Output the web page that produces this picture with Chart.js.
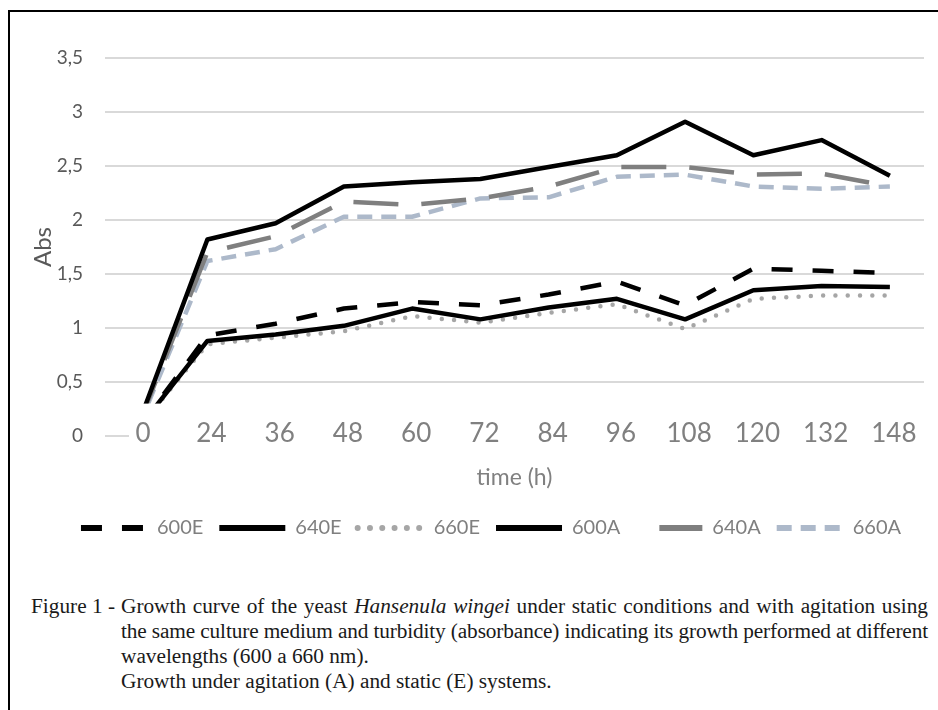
<!DOCTYPE html>
<html>
<head>
<meta charset="utf-8">
<script src="https://cdn.jsdelivr.net/npm/chart.js@4.4.0/dist/chart.umd.min.js"></script>
<style>
  html, body { margin: 0; padding: 0; background: #fff; }
  body { width: 938px; height: 710px; position: relative; overflow: hidden; }
  #frame { position: absolute; left: 8px; top: 10px; width: 1000px; height: 800px; border: 2px solid #000; box-sizing: border-box; }
  #chart { position: absolute; left: 0; top: 0; }
  #caption { position: absolute; left: 31px; top: 594px; width: 897px; font-family: "Liberation Serif", serif; font-size: 21.3px; line-height: 25px; color: #1a1a1a; }
  .l { display: block; white-space: nowrap; padding-left: 90px; position: relative; }
  .j { text-align: justify; text-align-last: justify; }
  .fig { position: absolute; left: 0; top: 0; }
</style>
</head>
<body>
<div id="frame"></div>
<canvas id="chart" width="938" height="560"></canvas>
<div id="caption">
  <div class="l j"><span class="fig">Figure 1 -</span><span class="t">Growth curve of the yeast <i>Hansenula wingei</i> under static conditions and with agitation using</span></div>
  <div class="l j"><span class="t">the same culture medium and turbidity (absorbance) indicating its growth performed at different</span></div>
  <div class="l">wavelengths (600 a 660 nm).</div>
  <div class="l">Growth under agitation (A) and static (E) systems.</div>
</div>
<script>
// time points (h)
const labels = ['0', '24', '36', '48', '60', '72', '84', '96', '108', '120', '132', '148'];

// absorbance, static (E)
const s600E = [0.08, 0.93, 1.04, 1.18, 1.24, 1.21, 1.31, 1.43, 1.21, 1.55, 1.53, 1.51];
const s640E = [0.08, 0.88, 0.94, 1.02, 1.18, 1.08, 1.19, 1.27, 1.08, 1.35, 1.39, 1.38];
const s660E = [0.08, 0.85, 0.91, 0.97, 1.11, 1.05, 1.14, 1.22, 0.99, 1.27, 1.30, 1.30];

// absorbance, agitation (A)
const s600A = [0.13, 1.82, 1.97, 2.31, 2.35, 2.38, 2.49, 2.60, 2.91, 2.60, 2.74, 2.41];
const s640A = [0.12, 1.70, 1.85, 2.17, 2.14, 2.20, 2.31, 2.49, 2.49, 2.42, 2.43, 2.31];
const s660A = [0.10, 1.62, 1.73, 2.03, 2.03, 2.20, 2.21, 2.40, 2.42, 2.31, 2.29, 2.31];

const yTicks = [0, 0.5, 1, 1.5, 2, 2.5, 3, 3.5];

// squeeze a justified caption line if its natural width is too wide
document.querySelectorAll('#caption .j .t').forEach(t => {
  t.style.display = 'inline-block';
  const over = t.getBoundingClientRect().width - 807;
  if (over > 0) {
    const n = t.textContent.length;
    t.parentNode.style.letterSpacing = (-over / n) + 'px';
  }
  t.style.display = '';
});

function line(label, data, color, dash, cap, legendDashOffset) {
  return {
    label, data,
    borderColor: color,
    backgroundColor: color,
    borderWidth: 4.5,
    borderDash: dash,
    borderCapStyle: cap || 'butt',
    borderJoinStyle: 'round',
    pointRadius: 0,
    pointStyle: 'line',
    tension: 0,
    fill: false,
    legendDashOffset: legendDashOffset || 0
  };
}

// white strip behind the category labels (covers the bottom of the plot)
const labelStrip = {
  id: 'labelStrip',
  afterDatasetsDraw(chart) {
    const {ctx, chartArea, scales} = chart;
    const top = scales.y.getPixelForValue(0.3);
    ctx.save();
    ctx.fillStyle = '#fff';
    ctx.fillRect(chartArea.left + 24, top, chartArea.right - chartArea.left, chartArea.bottom - top + 6);
    ctx.restore();
  }
};

const shiftLegend = {
  id: 'shiftLegend',
  afterLayout(chart) {
    chart.legend.left += 38;
  }
};

const ctx = document.getElementById('chart').getContext('2d');

new Chart(ctx, {
  type: 'line',
  data: {
    labels,
    datasets: [
      line('600E', s600E, '#000000', [21, 20]),
      line('640E', s640E, '#000000', []),
      line('660E', s660E, '#a6a6a6', [0, 12.3], 'round'),
      line('600A', s600A, '#000000', []),
      line('640A', s640A, '#7f7f7f', [45, 23], 'butt', 45),
      line('660A', s660A, '#adb9ca', [15, 9])
    ]
  },
  options: {
    responsive: false,
    animation: false,
    layout: { padding: { top: 58, left: 20, right: 14, bottom: 12 } },
    plugins: {
      tooltip: { enabled: false },
      legend: {
        position: 'bottom',
        labels: {
          usePointStyle: true,
          pointStyleWidth: 66,
          padding: 16,
          color: '#7f7f7f',
          font: { family: 'Lato', size: 20 },
          generateLabels(chart) {
            return Chart.defaults.plugins.legend.labels.generateLabels(chart).map(item => {
              const ds = chart.data.datasets[item.datasetIndex];
              return Object.assign(item, {
                lineWidth: 6,
                lineDash: ds.borderDash,
                lineDashOffset: ds.legendDashOffset,
                lineCap: ds.borderCapStyle,
                strokeStyle: ds.borderColor
              });
            });
          }
        }
      }
    },
    scales: {
      x: {
        offset: true,
        grid: { display: false },
        border: { display: false },
        ticks: {
          z: 1,
          autoSkip: false,
          maxRotation: 0,
          minRotation: 0,
          mirror: true,
          padding: -13.6,
          labelOffset: 4,
          color: '#808080',
          font: { family: 'Lato', size: 26 }
        },
        title: {
          display: true,
          text: 'time (h)',
          color: '#808080',
          font: { family: 'Lato', size: 23 },
          padding: { top: 0, bottom: 11 }
        },
        afterFit(scale) { scale.height = 66; }
      },
      y: {
        min: 0,
        max: 3.5,
        afterBuildTicks(scale) { scale.ticks = yTicks.map(v => ({ value: v })); },
        grid: { color: '#d9d9d9', lineWidth: 2, drawTicks: false },
        border: { display: false },
        ticks: {
          padding: 22,
          color: '#595959',
          font: { family: 'Lato', size: 19 },
          callback: v => String(v).replace('.', ',')
        },
        title: {
          display: true,
          text: 'Abs',
          color: '#595959',
          font: { family: 'Lato', size: 24 },
          padding: { top: 9, bottom: 0 }
        },
        afterFit(scale) { scale.width = 85; }
      }
    }
  },
  plugins: [labelStrip, shiftLegend]
});
</script>
</body>
</html>
